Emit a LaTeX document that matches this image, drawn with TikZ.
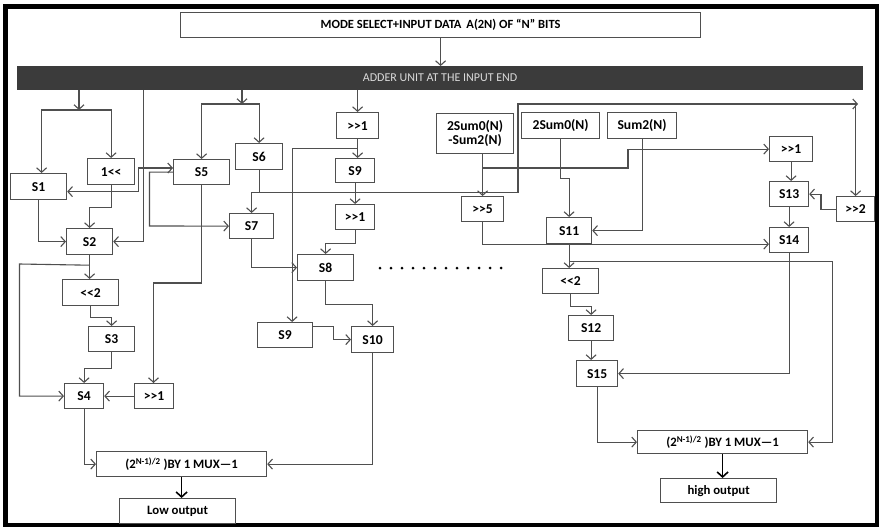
\documentclass[tikz,border=0pt]{standalone}
\usepackage{fontspec}
\setmainfont{Carlito}[Ligatures=TeXOff]
\usetikzlibrary{arrows.meta,calc}
\definecolor{wire}{HTML}{4F4F4F}
\definecolor{barfill}{HTML}{3B3B3B}
\definecolor{bartext}{HTML}{DADADA}
\tikzset{
  blk/.style={draw=wire, line width=1.2pt, fill=white, inner sep=0pt,
    anchor=north west, align=center, text=black,
    font=\bfseries\fontsize{13.6}{14}\selectfont},
  wire/.style={draw=wire, line width=1.1pt},
  arr/.style={wire, -{Straight Barb[length=4.5pt,width=10pt,line width=1.1pt]}},
  arrb/.style={wire, {Straight Barb[length=4.5pt,width=10pt,line width=1.1pt]}-{Straight Barb[length=4.5pt,width=10pt,line width=1.1pt]}},
  outarr/.style={draw=black, line width=1.6pt, -{Straight Barb[length=5pt,width=11pt,line width=1.6pt]}},
  dotmark/.style={circle, fill=black, inner sep=0pt, minimum size=3pt}
}
% box from its top-left corner (x1,y1) to its bottom-right corner (x2,y2)
\newcommand\bx[7][]{\node[blk,#1,minimum width={#5-#3},minimum height={#6-#4}] (#2) at (#3,#4) {#7};}
\begin{document}
\begin{tikzpicture}[x=1pt,y=-1pt]
\useasboundingbox (0,0) rectangle (880,528);
\fill[white] (0,0) rectangle (880,528);
\draw[line width=4.5pt] (5.5,6.5) rectangle (877,525);

% input and adder
\bx[font=\bfseries\fontsize{12.5}{13}\selectfont]{top}{180}{12}{700}{37}{MODE SELECT+INPUT DATA\, A(2N) OF “N” BITS}
\bx[fill=barfill,draw=barfill,text=bartext,font=\fontsize{12}{13}\selectfont]{bar}{17}{66}{862}{89}{ADDER UNIT AT THE INPUT END}

% low half
\bx{S1}{10}{173}{66}{199}{S1}
\bx{sh1}{87}{158}{134}{184}{1<<}
\bx{S2}{66}{228}{112}{254}{S2}
\bx{sl}{62}{279}{118}{305}{<<2}
\bx{S3}{88}{326}{134}{351}{S3}
\bx{S4}{64}{383}{103}{408}{S4}
\bx{sr1}{134}{383}{173}{408}{>>1}
\bx{S5}{173}{159}{229}{184}{S5}
\bx{S6}{235}{143}{282}{169}{S6}
\bx{S7}{229}{213}{273}{238}{S7}
\bx{sa}{336}{112}{378}{138}{>>1}
\bx{S9a}{335}{158}{374}{182}{S9}
\bx{sb}{335}{204}{374}{229}{>>1}
\bx{S8}{297}{254}{353}{280}{S8}
\bx{S9b}{257}{322}{312}{347}{S9}
\bx{S10}{351}{326}{393}{352}{S10}
\bx[font=\bfseries\fontsize{12.8}{13}\selectfont]{mux1}{96}{451}{266}{476}{(2\textsuperscript{N-1)/2} )BY 1 MUX—1}
\bx[font=\bfseries\fontsize{12.8}{13}\selectfont]{low}{119}{498}{235}{523}{Low output}

% high half
\bx{X1}{436}{113}{513}{153}{2Sum0(N)\\-Sum2(N)}
\bx{X2}{521}{112}{599}{138}{2Sum0(N)}
\bx{X3}{607}{112}{676}{138}{Sum2(N)}
\bx{s5}{461}{196}{503}{221}{>>5}
\bx{S11}{546}{217}{591}{243}{S11}
\bx{sR1}{769}{136}{812}{161}{>>1}
\bx{S13}{769}{181}{808}{206}{S13}
\bx{sR2}{836}{196}{874}{221}{>>2}
\bx{S14}{769}{227}{808}{252}{S14}
\bx{sL2}{542}{268}{598}{293}{<<2}
\bx{S12}{568}{315}{613}{340}{S12}
\bx{S15}{576}{360}{617}{386}{S15}
\bx[font=\bfseries\fontsize{12.8}{13}\selectfont]{mux2}{637}{430}{807}{453}{(2\textsuperscript{N-1)/2} )BY 1 MUX—1}
\bx[font=\bfseries\fontsize{12.8}{13}\selectfont]{high}{660}{478}{776}{502}{high output}

% elided stages
\foreach \i in {0,...,11} \node[dotmark] (d\i) at (380+11*\i,268) {};

% ---- connectors ----
\draw[arr] (top.south) -- (top.south |- bar.north);

% first column
\coordinate (fa) at (79,110);
\draw[arr] (bar.south -| fa) -- (fa);
\draw[arr] (fa) -| ([xshift=3pt]S1.north);
\draw[arr] (fa) -| (sh1.north);
\coordinate (fb) at (143.5,100);
\draw[arr] (bar.south -| fb) |- (S2.east);
\draw[arr] (S1.south) |- (S2.west);
\draw[arr] (sh1.south) -- ++(0,22) -| (S2.north);
\coordinate (fc) at (138.5,168);
\draw[arrb] ([yshift=-5pt]S1.east) -| (fc) -- (fc -| S5.west);
\coordinate (fd) at (149.5,226);
\draw[arr] (S5.west) -| (fd) -- (S7.west);
\path (S2.south) ++(0,10) coordinate (fk);
\coordinate (fl) at (19.5,264);
\draw[arr] (S2.south) -- (sl.north -| S2.south);
\draw[arr] (fk) -- (fl) |- (S4.west);
\draw[arr] (sl.south) -- ++(0,11) -| (S3.north);
\draw[arr] (S3.south) -- ++(0,16) -| (S4.north);
\draw[arr] (sr1.west) -- (S4.east);
\draw[arr] (S4.south) |- (mux1.west);

% second column
\coordinate (fe) at (242,104);
\draw[arr] (bar.south -| fe) -- (fe);
\draw[arr] (fe) -| (S5.north);
\draw[arr] (fe) -| (S6.north);
\coordinate (ff) at (153.5,283);
\draw[arr] (S5.south) |- (ff) -- (ff |- sr1.north);
\path (S6.south) ++(0,22) coordinate (fg);
\draw[arr] (S6.south) -- (fg) -| (S7.north);
\coordinate (fh) at (518,104);
\coordinate (fi) at (858,104);
\draw[arr] (fg) -| (fh) -- (fi);
\draw[arr] (sR2.north |- fi) -- (sR2.north);
\draw[arr] (S7.south) |- (S8.west);

% third column
\draw[arr] (bar.south -| sa.north) -- (sa.north);
\draw[arr] (sa.south) -- (sa.south |- S9a.north);
\path (sa.south) ++(0,9) coordinate (fj);
\draw[arr] (fj) -| ([xshift=7pt]S9b.north);
\draw[arr] (S9a.south) -- (sb.north);
\draw[arr] (sb.south) -- ++(0,13) -| (S8.north);
\draw[arr] (S8.south) -- ++(0,23) -| (S10.north);
\draw[arr] ([yshift=8.5pt]S9b.east) -- ++(20,0) |- (S10.west);
\draw[arr] (S10.south) |- (mux1.east);
\draw[outarr] (mux1.south) -- (mux1.south |- low.north);

% high half
\draw[arr] (X1.south -| s5.north) -- (s5.north);
\coordinate (fm) at (482,168);
\draw[arr] (fm) -- ++(146,0) |- (sR1.west);
\draw[arr] (s5.south) |- ([yshift=-4pt]S14.west);
\draw[arr] (X2.south) -- ++(0,39) -| (S11.north);
\draw[arr] (X3.south) |- (S11.east);
\draw[arr] (sR1.south) -- (sR1.south |- S13.north);
\draw[arr] (sR2.west) -- ++(-15,0) |- (S13.east);
\draw[arr] (S13.south) -- (S14.north);
\draw[arr] (S14.south) |- (S15.east);
\draw[arr] (S11.south) -- (S11.south |- sL2.north);
\path (S11.south) ++(0,17) coordinate (fn);
\draw[arr] (fn) -- ++(263,0) |- (mux2.east);
\draw[arr] (sL2.south) -- ++(0,12) -| (S12.north);
\draw[arr] (S12.south) -- (S12.south |- S15.north);
\draw[arr] (S15.south) |- (mux2.west);
\draw[outarr] (mux2.south) -- (mux2.south |- high.north);
\end{tikzpicture}
\end{document}
